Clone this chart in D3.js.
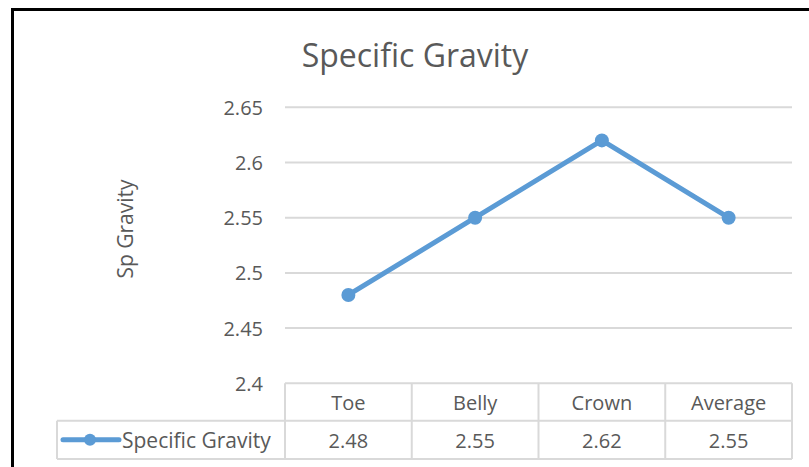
<!DOCTYPE html>
<html>
<head>
<meta charset="utf-8">
<script src="https://cdn.jsdelivr.net/npm/d3@7"></script>
<style>
  html, body { margin: 0; padding: 0; background: #fff; }
  svg { display: block; font-family: "Open Sans", sans-serif; }
</style>
</head>
<body>
<svg id="chart" width="809" height="467"></svg>
<script>
const categories = ["Toe", "Belly", "Crown", "Average"];
const values = [2.48, 2.55, 2.62, 2.55];
const yTicks = [2.4, 2.45, 2.5, 2.55, 2.6, 2.65];
const seriesName = "Specific Gravity";
const chartTitle = "Specific Gravity";
const yLabel = "Sp Gravity";

const svg = d3.select("#chart");
const textColor = "#595959";
const gridColor = "#d9d9d9";
const lineColor = "#5B9BD5";

// frame
svg.append("rect")
  .attr("x", 12.5).attr("y", 9.5)
  .attr("width", 820).attr("height", 480)
  .attr("fill", "none").attr("stroke", "#000").attr("stroke-width", 3);

const plot = { left: 285, right: 792, top: 107.3, bottom: 383.3 };

const x = d3.scaleBand().domain(categories).range([plot.left, plot.right]);
const y = d3.scaleLinear().domain([2.4, 2.65]).range([plot.bottom, plot.top]);

// gridlines
svg.append("g").selectAll("line").data(yTicks).join("line")
  .attr("x1", plot.left).attr("x2", plot.right)
  .attr("y1", d => y(d)).attr("y2", d => y(d))
  .attr("stroke", gridColor).attr("stroke-width", 2);

// y axis tick labels
const yAxis = d3.axisLeft(y).tickValues(yTicks).tickSize(0).tickPadding(0)
  .tickFormat(d => String(+d.toFixed(2)));
const yg = svg.append("g").attr("transform", `translate(${plot.left - 22},0)`).call(yAxis);
yg.select(".domain").remove();
yg.selectAll("text")
  .attr("fill", textColor)
  .style("font-size", "20px")
  .style("font-family", "'Open Sans', sans-serif")
  .attr("dy", "0.35em");

// title
svg.append("text")
  .attr("x", 415).attr("y", 66.5)
  .attr("text-anchor", "middle")
  .attr("fill", textColor)
  .style("font-size", "32px")
  .text(chartTitle);

// y label
svg.append("text")
  .attr("transform", "translate(133,229) rotate(-90)")
  .attr("text-anchor", "middle")
  .attr("fill", textColor)
  .style("font-size", "21px")
  .text(yLabel);

// line
const line = d3.line()
  .x((d, i) => x(categories[i]) + x.bandwidth() / 2)
  .y(d => y(d));
svg.append("path")
  .datum(values)
  .attr("d", line)
  .attr("fill", "none")
  .attr("stroke", lineColor)
  .attr("stroke-width", 5)
  .attr("stroke-linejoin", "round");
svg.append("g").selectAll("circle").data(values).join("circle")
  .attr("cx", (d, i) => x(categories[i]) + x.bandwidth() / 2)
  .attr("cy", d => y(d))
  .attr("r", 7)
  .attr("fill", lineColor);

// data table
const row1Top = plot.bottom, row1Bot = 420.7, row2Bot = 459;
const legendLeft = 57;
const tg = svg.append("g").attr("stroke", gridColor).attr("stroke-width", 2);
// vertical lines at band boundaries
const bounds = categories.map(c => x(c)).concat([plot.right]);
tg.selectAll("line.v").data(bounds).join("line").attr("class", "v")
  .attr("x1", d => d).attr("x2", d => d)
  .attr("y1", row1Top).attr("y2", row2Bot);
tg.append("line").attr("x1", legendLeft).attr("x2", legendLeft).attr("y1", row1Bot).attr("y2", row2Bot);
tg.append("line").attr("x1", legendLeft).attr("x2", plot.right).attr("y1", row1Bot).attr("y2", row1Bot);
tg.append("line").attr("x1", legendLeft).attr("x2", plot.right).attr("y1", row2Bot).attr("y2", row2Bot);

// header labels
svg.append("g").selectAll("text").data(categories).join("text")
  .attr("x", d => x(d) + x.bandwidth() / 2)
  .attr("y", (row1Top + row1Bot) / 2 + 1)
  .attr("dy", "0.35em")
  .attr("text-anchor", "middle")
  .attr("fill", textColor)
  .style("font-size", "20px")
  .text(d => d);

// values
svg.append("g").selectAll("text").data(values).join("text")
  .attr("x", (d, i) => x(categories[i]) + x.bandwidth() / 2)
  .attr("y", (row1Bot + row2Bot) / 2 + 1)
  .attr("dy", "0.35em")
  .attr("text-anchor", "middle")
  .attr("fill", textColor)
  .style("font-size", "20px")
  .text(d => d.toFixed(2));

// legend key
const ly = (row1Bot + row2Bot) / 2;
svg.append("line")
  .attr("x1", 63).attr("x2", 119).attr("y1", ly).attr("y2", ly)
  .attr("stroke", lineColor).attr("stroke-width", 5).attr("stroke-linecap", "round");
svg.append("circle").attr("cx", 90).attr("cy", ly).attr("r", 6).attr("fill", lineColor);
svg.append("text")
  .attr("x", 122).attr("y", ly + 1).attr("dy", "0.35em")
  .attr("fill", textColor)
  .style("font-size", "21px")
  .text(seriesName);
</script>
</body>
</html>
